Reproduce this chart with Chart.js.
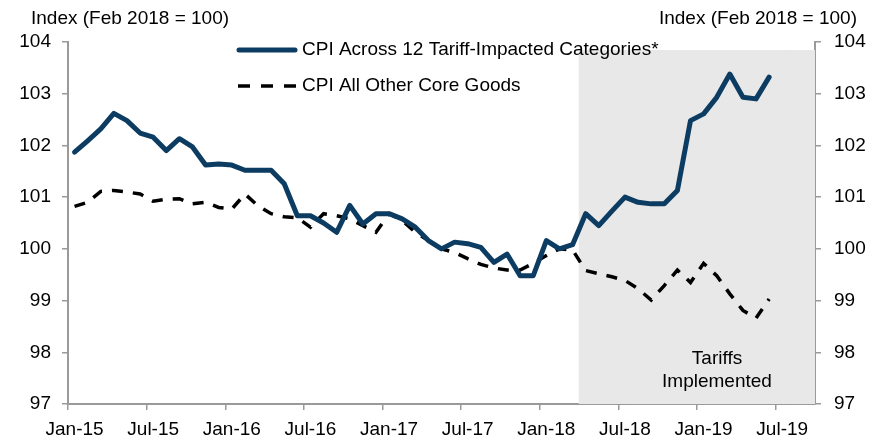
<!DOCTYPE html>
<html>
<head>
<meta charset="utf-8">
<script src="https://cdn.jsdelivr.net/npm/chart.js@4.4.1/dist/chart.umd.min.js"></script>
<style>
  html, body { margin: 0; padding: 0; background: #fff; }
  #wrap { width: 886px; height: 440px; position: relative; }
</style>
</head>
<body>
<div id="wrap"><canvas id="cpiChart"></canvas></div>
<script>
// month categories Jan-15 .. Sep-19 (axis runs a few months past the data)
const MONTH_NAMES = ['Jan', 'Feb', 'Mar', 'Apr', 'May', 'Jun', 'Jul', 'Aug', 'Sep', 'Oct', 'Nov', 'Dec'];
const YEARS = ['15', '16', '17', '18', '19'];
const MONTH_COUNT = 57;
const months = [];
YEARS.forEach(y => MONTH_NAMES.forEach(m => months.push(m + '-' + y)));
months.length = MONTH_COUNT;

// CPI across 12 tariff-impacted categories (Jan-15 .. Jun-19)
const tariffCpi = [
    101.87, 102.09, 102.32, 102.62, 102.48, 102.24, 102.16, 101.90, 102.13, 101.97, 101.62, 101.64,
    101.62, 101.52, 101.52, 101.52, 101.26, 100.64, 100.64, 100.50, 100.32, 100.84, 100.48, 100.68,
    100.68, 100.58, 100.42, 100.16, 100.00, 100.13, 100.10, 100.03, 99.74, 99.90, 99.48, 99.48,
    100.16, 100.00, 100.08, 100.68, 100.45, 100.73, 101.00, 100.90, 100.87, 100.87, 101.13, 102.48,
    102.61, 102.93, 103.38, 102.93, 102.90, 103.32
];

// CPI all other core goods (Jan-15 .. Jun-19)
const otherCoreCpi = [
    100.82, 100.90, 101.11, 101.13, 101.10, 101.06, 100.92, 100.96, 100.97, 100.87, 100.90, 100.80,
    100.77, 101.06, 100.83, 100.68, 100.62, 100.60, 100.42, 100.68, 100.64, 100.58, 100.45, 100.32,
    100.68, 100.55, 100.32, 100.16, 100.00, 99.93, 99.81, 99.70, 99.63, 99.59, 99.59, 99.72,
    99.87, 100.00, 99.98, 99.58, 99.52, 99.46, 99.39, 99.23, 99.01, 99.29, 99.59, 99.35,
    99.72, 99.48, 99.13, 98.81, 98.66, 99.03
];

// shaded "tariffs implemented" period
const shadeStart = 'Apr-18';
const shadeTop = 103.84;
const yMin = 97;
const yMax = 104;

const AXIS_GREY = '#9a9a9a';
const FONT = '"Liberation Sans", Arial, sans-serif';

const shadeIdx = months.indexOf(shadeStart);
const shadeData = months.map((m, i) => (i >= shadeIdx ? [yMin, shadeTop] : null));

// titles, legend and the note in the shaded box
const textPlugin = {
    id: 'textPlugin',
    afterDraw(chart) {
        const ctx = chart.ctx;
        ctx.save();
        ctx.fillStyle = '#000';
        ctx.font = '19px ' + FONT;
        ctx.textBaseline = 'middle';

        ctx.textAlign = 'left';
        ctx.fillText('Index (Feb 2018 = 100)', 31, 19);
        ctx.textAlign = 'right';
        ctx.fillText('Index (Feb 2018 = 100)', 857, 19);

        // legend
        ctx.textAlign = 'left';
        ctx.lineWidth = 5;
        ctx.lineCap = 'round';
        ctx.strokeStyle = '#0c3c62';
        ctx.beginPath();
        ctx.moveTo(239, 50);
        ctx.lineTo(295, 50);
        ctx.stroke();
        ctx.fillText('CPI Across 12 Tariff-Impacted Categories*', 302, 50);

        ctx.lineWidth = 3.5;
        ctx.lineCap = 'butt';
        ctx.strokeStyle = '#000';
        ctx.setLineDash([12, 11]);
        ctx.beginPath();
        ctx.moveTo(238, 86);
        ctx.lineTo(297, 86);
        ctx.stroke();
        ctx.setLineDash([]);
        ctx.fillText('CPI All Other Core Goods', 302, 86);

        // shaded box note
        ctx.textAlign = 'center';
        ctx.fillText('Tariffs', 717, 359);
        ctx.fillText('Implemented', 717, 382);
        ctx.restore();
    }
};

const ctx = document.getElementById('cpiChart').getContext('2d');
const cpiChart = new Chart(ctx, {
    type: 'bar',
    data: {
        labels: months,
        datasets: [
            {
                type: 'line',
                label: 'CPI Across 12 Tariff-Impacted Categories*',
                data: tariffCpi,
                borderColor: '#0c3c62',
                borderWidth: 5,
                borderJoinStyle: 'round',
                borderCapStyle: 'round',
                pointRadius: 0,
                tension: 0,
                yAxisID: 'y',
                order: 1
            },
            {
                type: 'line',
                label: 'CPI All Other Core Goods',
                data: otherCoreCpi,
                borderColor: '#000',
                borderWidth: 3.5,
                borderDash: [11, 10],
                pointRadius: 0,
                tension: 0,
                yAxisID: 'y',
                order: 2
            },
            {
                label: 'Tariffs Implemented',
                data: shadeData,
                backgroundColor: '#e8e8e8',
                borderWidth: 0,
                barPercentage: 1,
                categoryPercentage: 1,
                yAxisID: 'y',
                order: 3
            }
        ]
    },
    options: {
        responsive: true,
        maintainAspectRatio: false,
        animation: false,
        devicePixelRatio: 1,
        layout: {
            padding: { top: 42, left: 0, right: 0, bottom: 0 }
        },
        plugins: {
            legend: { display: false },
            tooltip: { enabled: false }
        },
        scales: {
            x: {
                type: 'category',
                offset: true,
                grid: {
                    display: true,
                    drawOnChartArea: false,
                    offset: true,
                    tickLength: 6,
                    lineWidth: 1.5,
                    // only a tick mark every 6 months
                    tickColor: c => (c.index % 6 === 0 ? AXIS_GREY : 'rgba(0,0,0,0)')
                },
                border: { color: AXIS_GREY, width: 2 },
                ticks: {
                    autoSkip: false,
                    maxRotation: 0,
                    minRotation: 0,
                    padding: 8,
                    color: '#000',
                    font: { family: FONT, size: 19 },
                    callback: (v, i) => (i % 6 === 0 ? months[i] : '')
                },
                afterFit: s => { s.height = 36; }
            },
            y: {
                position: 'left',
                min: yMin,
                max: yMax,
                grid: {
                    drawOnChartArea: false,
                    tickLength: 6,
                    lineWidth: 1.5,
                    color: AXIS_GREY
                },
                border: { color: AXIS_GREY, width: 2 },
                ticks: {
                    stepSize: 1,
                    padding: 11,
                    color: '#000',
                    font: { family: FONT, size: 19 }
                },
                afterFit: s => { s.width = 68; }
            },
            y2: {
                position: 'right',
                min: yMin,
                max: yMax,
                grid: {
                    drawOnChartArea: false,
                    tickLength: 6,
                    lineWidth: 1.5,
                    color: AXIS_GREY
                },
                border: { color: AXIS_GREY, width: 2 },
                ticks: {
                    stepSize: 1,
                    padding: 13,
                    color: '#000',
                    font: { family: FONT, size: 19 }
                },
                afterFit: s => { s.width = 71; }
            }
        }
    },
    plugins: [textPlugin]
});
</script>
</body>
</html>
